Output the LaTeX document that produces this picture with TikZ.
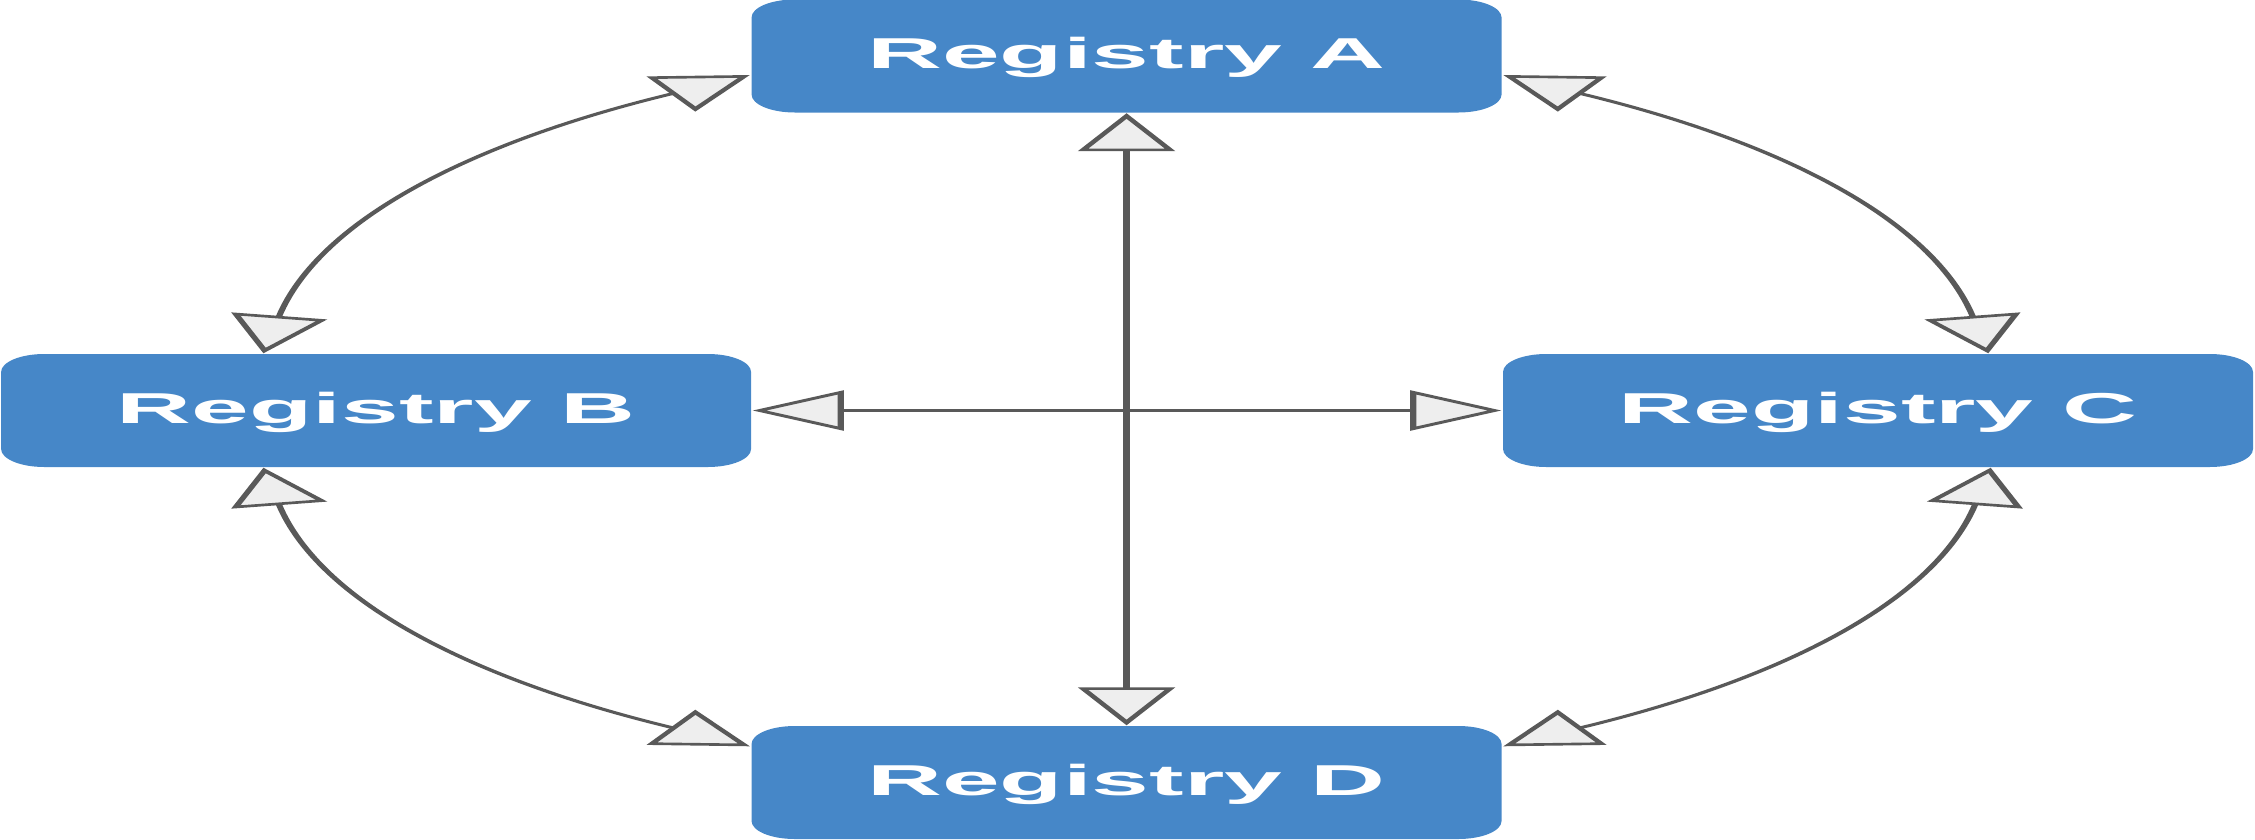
\documentclass[tikz,border=0pt]{standalone}
\usepackage{fontspec}
\setsansfont{Liberation Sans}
\usetikzlibrary{arrows.meta}
\definecolor{regblue}{HTML}{4687C8}
\definecolor{linkgray}{HTML}{595959}
\definecolor{tipfill}{HTML}{EEEEEE}
\tikzset{
    regtip/.tip={Triangle[length=0.38cm,width=0.40cm,fill=tipfill]},
}
\begin{document}
\begin{tikzpicture}[
        registry/.style={fill=regblue,rounded corners=0.18cm,minimum width=3.125cm,minimum height=1.13cm,inner sep=0pt,
            text=white,font=\sffamily\bfseries\fontsize{12.3}{14}\selectfont,text height=0.72em,text depth=0pt},
        link/.style={draw=linkgray,line width=0.75pt,regtip-regtip}
    ]
    \useasboundingbox (0,0) rectangle (22.55,8.39);
    \clip (0,0) rectangle (22.55,8.39);
    % the whole drawing is stretched sideways
    \begin{scope}[transform canvas={xscale=2.4}]
        \node[registry] (ra) at (4.694,7.83) {Registry A};
        \node[registry] (rb) at (1.567,4.285) {Registry B};
        \node[registry] (rc) at (7.825,4.285) {Registry C};
        \node[registry] (rd) at (4.694,0.565) {Registry D};
        \draw[link] (rb) -- (rc);
        \draw[link] (ra) -- (rd);
        \draw[link] ([xshift=1.10cm]rb.north west) to[out=80,in=210] ([yshift=-0.19cm]ra.west);
        \draw[link] ([xshift=-1.11cm]rc.north east) to[out=100,in=-30] ([yshift=-0.19cm]ra.east);
        \draw[link] ([xshift=1.10cm]rb.south west) to[out=-80,in=150] ([yshift=-0.21cm]rd.north west);
        \draw[link] ([xshift=-1.10cm]rc.south east) to[out=-100,in=30] ([yshift=-0.21cm]rd.north east);
    \end{scope}
\end{tikzpicture}
\end{document}
